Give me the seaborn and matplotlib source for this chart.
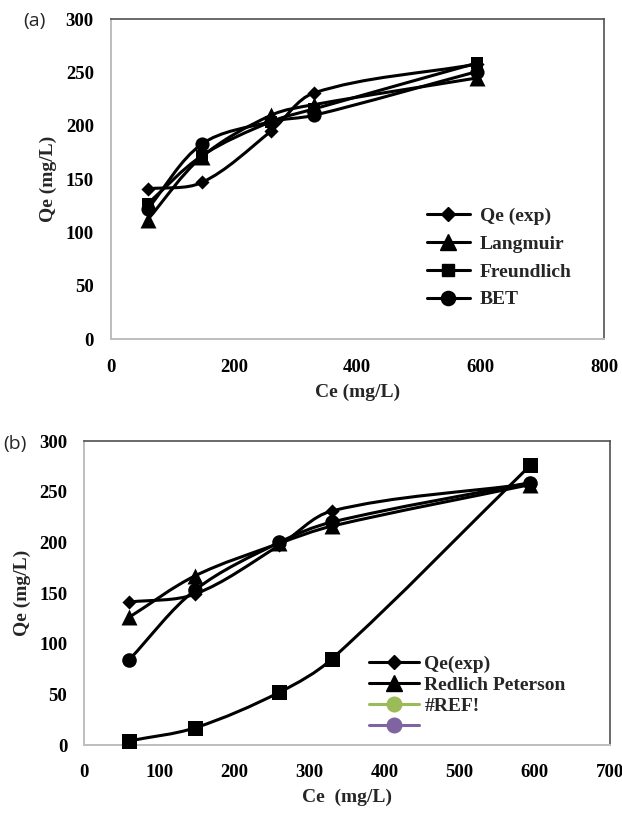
import numpy as np
import pandas as pd
import matplotlib
matplotlib.use("Agg")
import matplotlib.pyplot as plt
from matplotlib.path import Path
from matplotlib.patches import PathPatch
from matplotlib.lines import Line2D
import seaborn as sns

# ---------------- data ----------------
ce = [60, 148, 260, 330, 594]

# panel (a)
qe_exp_a = [141, 147, 195, 231, 258]
langmuir_a = [112, 171, 210, 220, 245]
freundlich_a = [127, 172, 204, 216, 259]
bet_a = [122, 183, 204, 210, 251]
labels_a = ["Qe (exp)", "Langmuir", "Freundlich", "BET"]

# panel (b)
qe_exp_b = [141, 149, 197, 231, 258]
redlich_b = [126, 167, 199, 216, 257]
circle_b = [84, 153, 200, 220, 259]
square_b = [4, 17, 52, 85, 276]
labels_b = ["Qe(exp)", "Redlich Peterson", "#REF!", ""]

xticks_a = [0, 200, 400, 600, 800]
xticks_b = [0, 100, 200, 300, 400, 500, 600, 700]
yticks = [0, 50, 100, 150, 200, 250, 300]

# ---------------- style ----------------
sns.set_theme(style="white")
plt.rcParams["font.family"] = ["Liberation Serif", "DejaVu Serif"]
plt.rcParams["font.weight"] = "bold"
plt.rcParams["axes.labelweight"] = "bold"

W, H = 622, 814
fig = plt.figure(figsize=(W / 100, H / 100), dpi=100)


def fig_rect(l, t, r, b):
    return [l / W, 1 - b / H, (r - l) / W, (b - t) / H]


ax1 = fig.add_axes(fig_rect(110.5, 19.3, 604, 339.3))
ax2 = fig.add_axes(fig_rect(84, 441, 610, 745))

LW = 2.2


def smooth_line(ax, xs, ys, color="black", lw=LW):
    """Smoothed (Excel-like) curve through the data points, drawn as a
    cubic Bezier path in data coordinates."""
    fig.canvas.draw_idle()
    x0, x1 = ax.get_xlim()
    y0, y1 = ax.get_ylim()
    bb = ax.get_position()
    sx = bb.width * W / (x1 - x0)
    sy = bb.height * H / (y1 - y0)
    P = np.column_stack([xs, ys]).astype(float)
    n = len(P)
    # chord lengths in pixels
    d = np.array([np.hypot((P[i + 1, 0] - P[i, 0]) * sx,
                           (P[i + 1, 1] - P[i, 1]) * sy) for i in range(n - 1)])
    T = np.zeros_like(P)
    for i in range(n):
        if i == 0:
            T[i] = (P[1] - P[0]) / d[0]
        elif i == n - 1:
            T[i] = (P[-1] - P[-2]) / d[-1]
        else:
            T[i] = (P[i + 1] - P[i - 1]) / (d[i - 1] + d[i])
    verts = [P[0]]
    codes = [Path.MOVETO]
    for i in range(n - 1):
        c1 = P[i] + T[i] * d[i] / 3.0
        c2 = P[i + 1] - T[i + 1] * d[i] / 3.0
        verts += [c1, c2, P[i + 1]]
        codes += [Path.CURVE4] * 3
    ax.add_patch(PathPatch(Path(verts, codes), fill=False, edgecolor=color,
                           lw=lw, capstyle="round", joinstyle="round", zorder=2))


def markers(ax, xs, ys, marker, ms, color="black"):
    sns.scatterplot(x=xs, y=ys, marker=marker, s=ms ** 2, color=color,
                    edgecolor=color, linewidth=0, ax=ax, zorder=3,
                    legend=False, clip_on=False)


def style_axes(ax, xticks, xmax, xlabel, ylabel_x, xlabel_y):
    ax.set_xlim(0, xmax)
    ax.set_ylim(0, 300)
    ax.set_xticks(xticks)
    ax.set_yticks(yticks)
    ax.tick_params(axis="both", length=0, labelsize=13.5, colors="black")
    ax.tick_params(axis="y", pad=12)
    ax.tick_params(axis="x", pad=14)
    for s in ["left", "bottom"]:
        ax.spines[s].set_color("#BDBDBD")
        ax.spines[s].set_linewidth(1.4)
    for s in ["top", "right"]:
        ax.spines[s].set_color("#505050")
        ax.spines[s].set_linewidth(1.2)
    ax.set_xlabel(xlabel, fontsize=14, fontweight="bold")
    ax.set_ylabel("Qe (mg/L)", fontsize=14, fontweight="bold")
    ax.xaxis.set_label_coords(0.5, xlabel_y)
    ax.yaxis.set_label_coords(ylabel_x, 0.5)
    ax.xaxis.label.set_va("center")
    ax.yaxis.label.set_va("center")
    ax.grid(False)


# ---------------- panel (a) ----------------
style_axes(ax1, xticks_a, 800, "Ce (mg/L)",
           (48 - 110.5) / 493.5, (339.3 - 392) / 320)
series_a = [(qe_exp_a, "D", 7.2), (langmuir_a, "^", 11.5),
            (freundlich_a, "s", 9.2), (bet_a, "o", 10.2)]
for ys, mk, ms in series_a:
    smooth_line(ax1, ce, ys)
for ys, mk, ms in series_a:
    markers(ax1, ce, ys, mk, ms)

handles_a = [Line2D([], [], color="black", lw=LW, marker=mk, markersize=ms)
             for _, mk, ms in series_a]
fig.legend(handles_a, labels_a, loc="upper left",
           bbox_to_anchor=(427 / W, 1 - 207 / H), frameon=False,
           prop={"family": "Liberation Serif", "weight": "bold", "size": 14},
           handlelength=2.2, handletextpad=0.5, labelspacing=0.53,
           borderpad=0, borderaxespad=0)

# ---------------- panel (b) ----------------
style_axes(ax2, xticks_b, 700, "Ce  (mg/L)",
           (22 - 84) / 526, (745 - 797) / 304)
series_b = [(qe_exp_b, "D", 7.2), (redlich_b, "^", 11.5),
            (circle_b, "o", 10.5), (square_b, "s", 10.8)]
for ys, mk, ms in series_b:
    smooth_line(ax2, ce, ys)
for ys, mk, ms in series_b:
    markers(ax2, ce, ys, mk, ms)

handles_b = [
    Line2D([], [], color="black", lw=LW, marker="D", markersize=7.2),
    Line2D([], [], color="black", lw=LW, marker="^", markersize=11.5),
    Line2D([], [], color="#9BBB59", lw=LW, marker="o", markersize=10.5),
    Line2D([], [], color="#8064A2", lw=LW, marker="o", markersize=10.5),
]
fig.legend(handles_b, labels_b, loc="upper left",
           bbox_to_anchor=(369 / W, 1 - 655 / H), frameon=False,
           prop={"family": "Liberation Serif", "weight": "bold", "size": 14},
           handlelength=2.55, handletextpad=0.3, labelspacing=0.17,
           borderpad=0, borderaxespad=0)

# panel letters
fig.text(34.5 / W, 1 - 21 / H, "(a)", fontsize=14, fontweight="normal",
         family=["Open Sans", "DejaVu Sans"], ha="center", va="center")
fig.text(15 / W, 1 - 444 / H, "(b)", fontsize=14, fontweight="normal",
         family=["Open Sans", "DejaVu Sans"], ha="center", va="center")

fig.savefig("out.png", dpi=100)
